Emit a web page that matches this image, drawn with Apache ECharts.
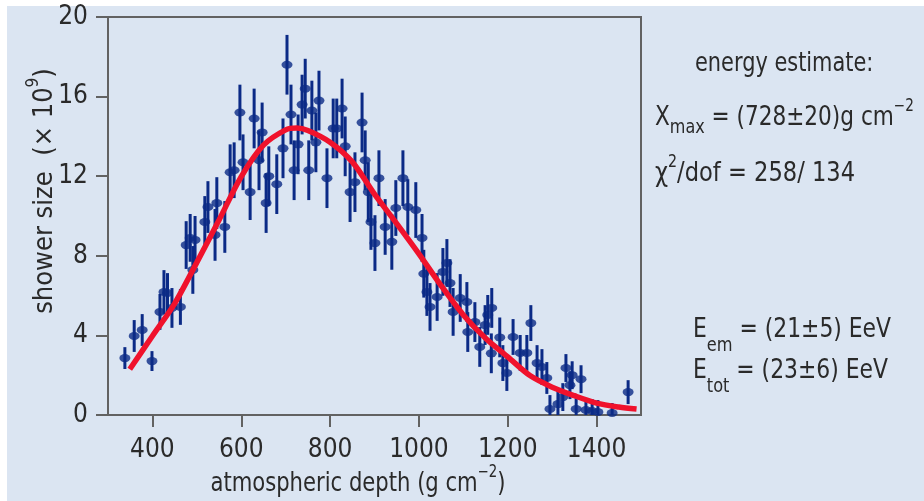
<!DOCTYPE html>
<html>
<head>
<meta charset="utf-8">
<script src="https://cdn.jsdelivr.net/npm/echarts@6/dist/echarts.min.js"></script>
<style>
  html, body { margin: 0; padding: 0; background: #ffffff; }
  #chart { width: 924px; height: 501px; }
</style>
</head>
<body>
<div id="chart"></div>
<script>
// Longitudinal shower profile: measured shower size vs atmospheric depth, with fitted profile.
const depth = [338, 359, 377, 399, 417, 426, 434, 444, 463, 476, 485, 491, 496, 518, 525, 541, 545, 563, 575, 584,
  597, 604, 620, 629, 640, 647, 656, 662, 680, 694, 703, 712, 719, 728, 737, 744, 752, 759, 768, 775,
  793, 807, 815, 827, 834, 845, 856, 872, 879, 886, 892, 901, 910, 924, 939, 948, 964, 975, 993, 1007,
  1011, 1018, 1025, 1041, 1054, 1063, 1070, 1077, 1093, 1108, 1110, 1126, 1137, 1149, 1155, 1163, 1164, 1182, 1189, 1198,
  1212, 1228, 1243, 1252, 1266, 1277, 1288, 1295, 1313, 1324, 1331, 1340, 1345, 1354, 1365, 1376, 1390, 1403, 1435, 1471];
const showerSize = [2.86, 3.97, 4.27, 2.71, 5.18, 6.18, 6.13, 5.38, 5.43, 8.54, 8.9, 7.29, 8.8, 9.7, 10.45, 9.05, 10.65, 9.45, 12.2, 12.3,
  15.2, 12.7, 11.2, 14.9, 12.8, 14.2, 10.65, 12.0, 11.6, 13.4, 17.6, 15.1, 12.3, 13.6, 15.6, 16.4, 12.3, 15.3, 13.7, 15.8,
  11.9, 14.4, 14.4, 15.4, 13.5, 11.2, 11.7, 14.7, 12.8, 11.2, 9.7, 8.64, 11.9, 9.45, 8.7, 10.4, 11.9, 10.45, 10.3, 8.9,
  7.1, 6.18, 5.43, 5.93, 7.19, 7.64, 6.63, 5.18, 5.88, 5.68, 4.17, 4.67, 3.42, 4.52, 5.03, 3.1, 5.38, 3.9, 2.61, 2.11,
  3.92, 3.12, 3.12, 4.62, 2.61, 2.41, 1.86, 0.3, 0.55, 0.9, 2.36, 1.5, 2.0, 0.3, 1.8, 0.25, 0.2, 0.15, 0.1, 1.15];
const sizeError = [0.55, 0.8, 0.8, 0.5, 0.9, 1.1, 1.0, 1.0, 0.9, 1.2, 1.2, 1.2, 1.2, 1.3, 1.3, 1.3, 1.3, 1.3, 1.4, 1.4,
  1.4, 1.4, 1.4, 1.5, 1.5, 1.5, 1.5, 1.5, 1.5, 1.5, 1.5, 1.5, 1.5, 1.5, 1.5, 1.5, 1.5, 1.5, 1.5, 1.5,
  1.5, 1.5, 1.5, 1.5, 1.5, 1.5, 1.5, 1.5, 1.5, 1.5, 1.4, 1.4, 1.4, 1.4, 1.4, 1.4, 1.4, 1.4, 1.4, 1.2,
  1.2, 1.2, 1.2, 1.2, 1.2, 1.2, 1.2, 1.2, 1.2, 1.0, 1.0, 1.0, 1.0, 1.0, 1.0, 1.0, 1.0, 1.0, 0.9, 0.9,
  0.9, 0.9, 0.9, 0.9, 0.9, 0.9, 0.8, 0.7, 0.7, 0.7, 0.7, 0.7, 0.7, 0.6, 0.7, 0.6, 0.6, 0.6, 0.5, 0.6];

// Fitted profile, sampled along depth
const fitDepth = [349, 400, 450, 500, 550, 600, 650, 700, 725, 750, 800, 850, 900, 950, 1000, 1050, 1100, 1150, 1200, 1250, 1300, 1350, 1400, 1450, 1490];
const fitSize = [2.3, 3.97, 5.6, 7.67, 9.8, 11.98, 13.56, 14.33, 14.42, 14.3, 13.71, 12.72, 11.1, 9.62, 8.1, 6.5, 5.03, 3.86, 2.92, 1.98, 1.4, 0.97, 0.6, 0.4, 0.3];

const xTicks = [400, 600, 800, 1000, 1200, 1400];
const yTicks = [0, 4, 8, 12, 16, 20];

const FONT = "'Liberation Sans Narrow', 'Arial Narrow', 'DejaVu Sans Condensed', sans-serif";
const INK = '#2a2a2a';
const FRAME = '#626262';
const NAVY = '#0b2a86';
const RED = '#f0122c';
const PANEL = '#dbe5f2';

const points = depth.map((d, i) => [d, showerSize[i]]);
const bars = depth.map((d, i) => [d, showerSize[i] - sizeError[i], showerSize[i] + sizeError[i]]);
const fitLine = fitDepth.map((d, i) => [d, fitSize[i]]);

const rich = {
  m: { fontFamily: FONT, fontSize: 27, lineHeight: 40, color: INK },
  mTall: { fontFamily: FONT, fontSize: 27, lineHeight: 52, color: INK },
  sub: { fontFamily: FONT, fontSize: 20, verticalAlign: 'bottom', color: INK, lineHeight: 30 },
  subLow: { fontFamily: FONT, fontSize: 20, verticalAlign: 'bottom', color: INK },
  sup: { fontFamily: FONT, fontSize: 17, verticalAlign: 'top', color: INK }
};

function label(x, y, text, sx) {
  return {
    type: 'text', x: x, y: y, z: 10, scaleX: sx,
    style: { text: text, rich: rich, fill: INK, align: 'left', verticalAlign: 'middle' }
  };
}

const chart = echarts.init(document.getElementById('chart'));
chart.setOption({
  backgroundColor: PANEL,
  animation: false,
  grid: { left: 108, top: 17, right: 283, bottom: 86, show: true, borderColor: FRAME, borderWidth: 2, backgroundColor: 'transparent' },
  xAxis: {
    type: 'value', min: 300, max: 1500,
    axisLine: { show: true, lineStyle: { color: FRAME, width: 2 } },
    axisTick: { show: true, inside: false, length: 12, customValues: xTicks, lineStyle: { color: FRAME, width: 2 } },
    axisLabel: { customValues: xTicks, margin: 22, fontFamily: FONT, fontSize: 26, color: INK, formatter: v => String(v) },
    splitLine: { show: false }
  },
  yAxis: {
    type: 'value', min: 0, max: 20, interval: 4,
    axisLine: { show: true, lineStyle: { color: FRAME, width: 2 } },
    axisTick: { show: true, inside: false, length: 12, lineStyle: { color: FRAME, width: 2 } },
    axisLabel: { margin: 20, fontFamily: FONT, fontSize: 26, color: INK, customValues: yTicks, formatter: v => String(v) },
    splitLine: { show: false }
  },
  graphic: [
    { type: 'rect', shape: { x: 0, y: 0, width: 924, height: 6 }, style: { fill: '#ffffff' }, z: -5, silent: true },
    { type: 'rect', shape: { x: 0, y: 0, width: 7, height: 501 }, style: { fill: '#ffffff' }, z: -5, silent: true },
    {
      type: 'text', x: 45, y: 191, rotation: Math.PI / 2, z: 10,
      style: { text: '{m|shower size  (× 10}{sup|9}{m|)}', rich: rich, align: 'center', verticalAlign: 'middle', fill: INK }
    },
    {
      type: 'text', x: 358, y: 484, z: 10, scaleX: 0.87,
      style: { text: '{m|atmospheric depth (g cm}{sup|−2}{m|)}', rich: rich, align: 'center', verticalAlign: 'middle', fill: INK }
    },
    label(695, 64, '{m|energy estimate:}', 0.86),
    label(655, 118, '{m|X}{sub|max}{m| = (728±20)g cm}{sup|−2}', 0.89),
    label(655, 174, '{m|χ}{sup|2}{m|/dof = 258/ 134}', 0.93),
    label(693, 330, '{mTall|E}{subLow|em}{mTall| = (21±5) EeV}', 0.9),
    label(693, 371, '{mTall|E}{subLow|tot}{mTall| = (23±6) EeV}', 0.9)
  ],
  series: [
    {
      type: 'custom', name: 'error', clip: true, z: 2,
      renderItem: function (params, api) {
        const a = api.coord([api.value(0), api.value(1)]);
        const b = api.coord([api.value(0), api.value(2)]);
        return { type: 'line', shape: { x1: a[0], y1: a[1], x2: b[0], y2: b[1] }, style: { stroke: NAVY, lineWidth: 3 } };
      },
      encode: { x: 0, y: [1, 2] },
      data: bars
    },
    {
      type: 'scatter', name: 'shower size', z: 3,
      symbol: 'circle', symbolSize: [11, 8],
      itemStyle: { color: NAVY },
      data: points
    },
    {
      type: 'line', name: 'fit', z: 4,
      smooth: 0.3, showSymbol: false, symbol: 'none',
      lineStyle: { color: RED, width: 5.5 },
      data: fitLine
    }
  ]
});
</script>
</body>
</html>
